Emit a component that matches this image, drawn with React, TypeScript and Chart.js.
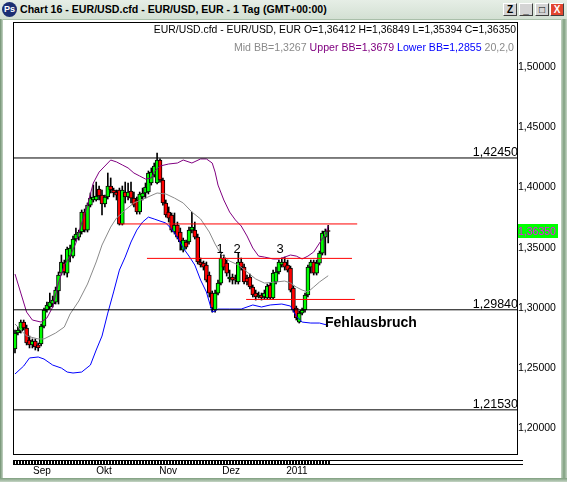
import React, { useEffect, useRef } from "react";
import { Chart, registerables } from "chart.js";
Chart.register(...registerables);

const FONT = '"Liberation Sans", Arial, Helvetica, sans-serif';

// ---- daily candles (index 0 = late Aug 2010) ----
const OPEN = [
  1.2659, 1.2791, 1.2808, 1.2882, 1.2833, 1.2733, 1.2692, 1.2725, 1.2692, 1.27,
  1.2849, 1.2982, 1.3007, 1.3032, 1.3048, 1.314, 1.3289, 1.3372, 1.3289, 1.343,
  1.343, 1.3572, 1.3588, 1.363, 1.3796, 1.3646, 1.3854, 1.3896, 1.3896, 1.3987,
  1.3937, 1.3863, 1.3921, 1.4012, 1.3979, 1.3962, 1.3979, 1.3696, 1.3962, 1.3921,
  1.3971, 1.3912, 1.3896, 1.3796, 1.3921, 1.3954, 1.3962, 1.4037, 1.4104, 1.4037,
  1.4228, 1.4062, 1.3871, 1.3796, 1.3771, 1.363, 1.3688, 1.363, 1.348, 1.3547,
  1.3547, 1.3646, 1.3646, 1.3588, 1.3381, 1.3372, 1.3356, 1.3273, 1.3123, 1.2982,
  1.3123, 1.3206, 1.3414, 1.3372, 1.324, 1.3256, 1.324, 1.3215, 1.3381, 1.3339,
  1.3248, 1.3256, 1.3173, 1.3123, 1.309, 1.3107, 1.309, 1.3082, 1.319, 1.3082,
  1.3215, 1.3298, 1.3356, 1.3381, 1.3356, 1.3331, 1.3165, 1.2999, 1.2882, 1.2957,
  1.2982, 1.3107, 1.3339, 1.3381, 1.3289, 1.3372, 1.3455, 1.3588, 1.36412,
];
const HIGH = [
  1.2816, 1.2841, 1.2899, 1.2899, 1.2857, 1.2766, 1.2742, 1.2742, 1.2708, 1.2866,
  1.2999, 1.3048, 1.3123, 1.3098, 1.3173, 1.3298, 1.3439, 1.3397, 1.3505, 1.3522,
  1.3597, 1.3663, 1.3646, 1.3813, 1.3821, 1.3871, 1.3954, 1.402, 1.4045, 1.4012,
  1.3979, 1.3937, 1.412, 1.4079, 1.3995, 1.3979, 1.3995, 1.4012, 1.4045, 1.4037,
  1.4045, 1.3962, 1.3921, 1.3962, 1.3995, 1.4037, 1.4137, 1.4162, 1.4203, 1.4286,
  1.4237, 1.4079, 1.3896, 1.3838, 1.3788, 1.3788, 1.3713, 1.3663, 1.358, 1.3563,
  1.3671, 1.3796, 1.3713, 1.3613, 1.3414, 1.3389, 1.3381, 1.3298, 1.314, 1.3148,
  1.3231, 1.3464, 1.3439, 1.3397, 1.3314, 1.3281, 1.3273, 1.3455, 1.3414, 1.3364,
  1.3273, 1.3281, 1.319, 1.3148, 1.3132, 1.3123, 1.3148, 1.3198, 1.3206, 1.3314,
  1.3339, 1.3397, 1.3414, 1.3422, 1.3397, 1.3347, 1.3181, 1.3015, 1.2974, 1.2999,
  1.3123, 1.3356, 1.3397, 1.3397, 1.3397, 1.3472, 1.3638, 1.3655, 1.36849,
];
const LOW = [
  1.2625, 1.2775, 1.2791, 1.2816, 1.2692, 1.2667, 1.2667, 1.265, 1.2642, 1.2683,
  1.2833, 1.2965, 1.299, 1.3007, 1.3032, 1.3032, 1.3273, 1.3273, 1.3256, 1.3381,
  1.3414, 1.3555, 1.3563, 1.3613, 1.363, 1.363, 1.3838, 1.3879, 1.3887, 1.3896,
  1.3771, 1.3838, 1.3904, 1.3954, 1.3921, 1.3896, 1.3688, 1.3688, 1.3871, 1.3896,
  1.3871, 1.3838, 1.3779, 1.3779, 1.3896, 1.3912, 1.3946, 1.402, 1.4087, 1.4029,
  1.4045, 1.3854, 1.3754, 1.3713, 1.363, 1.3613, 1.3572, 1.348, 1.3464, 1.3489,
  1.353, 1.3622, 1.3572, 1.3364, 1.3339, 1.3314, 1.3215, 1.309, 1.2965, 1.2965,
  1.3107, 1.319, 1.3314, 1.3264, 1.3215, 1.3198, 1.3198, 1.3198, 1.3314, 1.3198,
  1.319, 1.3157, 1.309, 1.3065, 1.3082, 1.3065, 1.3073, 1.3073, 1.3073, 1.3073,
  1.3198, 1.3281, 1.3339, 1.3314, 1.3298, 1.3132, 1.2965, 1.2899, 1.2874, 1.2941,
  1.2965, 1.309, 1.3289, 1.3273, 1.3273, 1.3356, 1.3439, 1.3439, 1.35394,
];
const CLOSE = [
  1.2791, 1.2816, 1.2882, 1.2833, 1.2708, 1.2692, 1.2725, 1.2675, 1.2667, 1.2849,
  1.2982, 1.3024, 1.3048, 1.3065, 1.3148, 1.3273, 1.3381, 1.3298, 1.3489, 1.3497,
  1.3572, 1.3613, 1.363, 1.3796, 1.3646, 1.3854, 1.3912, 1.3921, 1.3929, 1.3929,
  1.3863, 1.3921, 1.4012, 1.3979, 1.3954, 1.3937, 1.3696, 1.3979, 1.3921, 1.3962,
  1.3912, 1.3854, 1.3796, 1.3946, 1.3954, 1.4004, 1.412, 1.4128, 1.4178, 1.4228,
  1.4062, 1.3871, 1.3771, 1.3746, 1.3646, 1.3688, 1.3588, 1.3547, 1.3563, 1.3505,
  1.3646, 1.3671, 1.3588, 1.3381, 1.3356, 1.3339, 1.3231, 1.3123, 1.2999, 1.3123,
  1.3206, 1.3414, 1.3339, 1.3289, 1.3256, 1.3231, 1.3231, 1.3381, 1.3339, 1.3215,
  1.3215, 1.3173, 1.3107, 1.309, 1.3107, 1.3082, 1.3123, 1.3181, 1.3082, 1.3289,
  1.3298, 1.3381, 1.3381, 1.3339, 1.3314, 1.3148, 1.2982, 1.2916, 1.2957, 1.2982,
  1.3107, 1.3339, 1.3381, 1.3289, 1.3372, 1.3455, 1.3622, 1.3638, 1.3635,
];

// ---- Bollinger bands (20,2) read at sample bars ----
const UPPER_X = [0, 2, 4, 6, 9, 11, 13, 15, 17, 19, 21, 23, 25, 27, 29, 31, 33, 35, 37, 39, 41, 43, 45, 47, 48, 50, 53, 56, 58, 61, 64, 66, 68, 69, 70, 72, 74, 76, 78, 80, 82, 84, 86, 89, 91, 93, 95, 97, 99, 101, 103, 105, 107, 108];
const UPPER_V = [1.3281, 1.3123, 1.2965, 1.2899, 1.2882, 1.2916, 1.3007, 1.3206, 1.3356, 1.343, 1.3538, 1.3705, 1.3854, 1.4037, 1.4128, 1.4178, 1.4228, 1.4212, 1.4187, 1.4162, 1.412, 1.4095, 1.407, 1.4079, 1.4128, 1.4178, 1.4195, 1.4203, 1.4228, 1.4203, 1.4237, 1.4237, 1.4203, 1.4128, 1.402, 1.3896, 1.3796, 1.373, 1.368, 1.3597, 1.3497, 1.343, 1.3422, 1.3406, 1.3406, 1.3422, 1.3439, 1.343, 1.3406, 1.343, 1.3464, 1.3538, 1.3613, 1.3679];
const MID_X = [0, 4, 8, 10, 14, 17, 19, 22, 25, 28, 30, 33, 35, 38, 41, 45, 49, 52, 55, 58, 61, 64, 67, 69, 71, 74, 77, 80, 83, 86, 90, 93, 95, 97, 99, 101, 103, 105, 108];
const MID_V = [1.2866, 1.2766, 1.2742, 1.2742, 1.2791, 1.2841, 1.2949, 1.3057, 1.3198, 1.3381, 1.3522, 1.3671, 1.3746, 1.3813, 1.3871, 1.3912, 1.3954, 1.3946, 1.3912, 1.3871, 1.3796, 1.3738, 1.363, 1.353, 1.3447, 1.3389, 1.3356, 1.3298, 1.324, 1.3206, 1.3215, 1.3223, 1.3206, 1.3173, 1.3148, 1.3132, 1.3173, 1.3215, 1.3267];
const LOWER_X = [0, 3, 5, 8, 10, 13, 16, 18, 20, 23, 26, 28, 30, 32, 34, 36, 38, 40, 42, 44, 46, 48, 50, 52, 54, 56, 58, 60, 62, 64, 66, 68, 69, 70, 74, 78, 80, 82, 85, 88, 92, 95, 97, 99, 102, 105, 108];
const LOWER_V = [1.2451, 1.2517, 1.2584, 1.2592, 1.2575, 1.2525, 1.25, 1.2467, 1.2459, 1.2467, 1.2525, 1.265, 1.2766, 1.2957, 1.3132, 1.3314, 1.3422, 1.3547, 1.3646, 1.3713, 1.3754, 1.3738, 1.3721, 1.3705, 1.3655, 1.3588, 1.3497, 1.343, 1.3356, 1.3231, 1.3132, 1.2965, 1.2974, 1.299, 1.299, 1.299, 1.3007, 1.3024, 1.3007, 1.3024, 1.3032, 1.3015, 1.2932, 1.2882, 1.2874, 1.2874, 1.2855];

// ---- drawn levels ----
const LEVELS = [1.4245, 1.2984, 1.2153];
const LEVEL_LABELS = ["1,42450", "1,29840", "1,21530"];
const RED_LEVELS = [1.3697, 1.3411, 1.307];
const RED_FROM = [36.2, 45.5, 79.7];
const RED_TO = [118, 116.2, 117.2];

const WAVE_LABELS = ["1", "2", "3"];
const WAVE_X = [70.7, 76.6, 91.4];
const WAVE_BASE = 1.3458;
const NOTE_TEXT = "Fehlausbruch";
const NOTE_X = 106.9;
const NOTE_Y = 1.2841;

// ---- axes ----
const X_MIN = -0.69;
const X_MAX = 173.1;
const Y_MIN = 1.17863;
const Y_MAX = 1.53743;
const Y_TICKS = [1.2, 1.25, 1.3, 1.35, 1.4, 1.45, 1.5];
const MONTH_TICKS = [9.3, 30.7, 52.8, 74.5, 97.2];
const MONTH_LABELS = ["Sep", "Okt", "Nov", "Dez", "2011"];
const LAST_CLOSE = 1.3635;
const LAST_LABEL = "1,36350";

const fmt = (v: number) => v.toFixed(5).replace(".", ",");

const overlayPlugin = {
  id: "overlay",
  afterDatasetsDraw(chart: any) {
    const { ctx, chartArea: a, scales } = chart;
    const xs = scales.x;
    const ys = scales.y;
    ctx.save();
    // frame
    ctx.strokeStyle = "#000";
    ctx.lineWidth = 1;
    ctx.strokeRect(Math.round(a.left) + 0.5, Math.round(a.top) + 0.5, Math.round(a.right - a.left), Math.round(a.bottom - a.top));
    // level labels
    ctx.fillStyle = "#000";
    ctx.font = `12.5px ${FONT}`;
    ctx.textAlign = "right";
    ctx.textBaseline = "alphabetic";
    LEVELS.forEach((v, i) => ctx.fillText(LEVEL_LABELS[i], a.right + 1, ys.getPixelForValue(v) - 2));
    // wave labels
    ctx.font = `13px ${FONT}`;
    ctx.textAlign = "center";
    WAVE_LABELS.forEach((t, i) => ctx.fillText(t, xs.getPixelForValue(WAVE_X[i]), ys.getPixelForValue(WAVE_BASE)));
    // note
    ctx.font = `bold 14px ${FONT}`;
    ctx.textAlign = "left";
    ctx.fillText(NOTE_TEXT, xs.getPixelForValue(NOTE_X), ys.getPixelForValue(NOTE_Y));
    // last price box
    const py = ys.getPixelForValue(LAST_CLOSE);
    ctx.fillStyle = "#00ff00";
    ctx.fillRect(a.right + 1, Math.round(py) - 7, 40, 14);
    ctx.fillStyle = "#ff00ff";
    ctx.font = `10.5px ${FONT}`;
    ctx.textBaseline = "middle";
    ctx.fillText(LAST_LABEL, a.right + 1, py + 0.5);
    // bottom scroller
    const b = Math.round(a.bottom);
    const l = Math.round(a.left);
    ctx.strokeStyle = "#000";
    ctx.beginPath();
    ctx.moveTo(l, b + 6.5);
    ctx.lineTo(a.right + 6, b + 6.5);
    ctx.moveTo(l, b + 10.5);
    ctx.lineTo(a.right + 6, b + 10.5);
    ctx.stroke();
    const end = xs.getPixelForValue(OPEN.length - 1);
    ctx.fillStyle = "#000";
    for (let px = l; px < end; px += 3) ctx.fillRect(px, b + 7, 2, 3);
    ctx.restore();
  },
};

export default function App() {
  const ref = useRef<HTMLCanvasElement>(null);
  useEffect(() => {
    if (!ref.current) return;
    const idx = OPEN.map((_, i) => i);
    const line = (xs: number[], vs: number[]) => xs.map((x, i) => ({ x, y: vs[i] }));
    const common = { pointRadius: 0, borderWidth: 1, tension: 0, fill: false };
    const datasets: any[] = [
      ...LEVELS.map((v) => ({ type: "line", data: [{ x: X_MIN, y: v }, { x: X_MAX, y: v }], borderColor: "#000", order: 0, ...common })),
      ...RED_LEVELS.map((v, i) => ({ type: "line", data: [{ x: RED_FROM[i], y: v }, { x: RED_TO[i], y: v }], borderColor: "#ff0000", order: 0, ...common })),
      { type: "line", data: line(UPPER_X, UPPER_V), borderColor: "#800080", order: 1, ...common },
      { type: "line", data: line(MID_X, MID_V), borderColor: "#8a8a8a", order: 1, ...common },
      { type: "line", data: line(LOWER_X, LOWER_V), borderColor: "#0000ff", order: 1, ...common },
      {
        type: "bar",
        data: idx.map((i) => ({ x: i, y: [OPEN[i], CLOSE[i]] })),
        backgroundColor: idx.map((i) => (CLOSE[i] >= OPEN[i] ? "#00ff00" : "#ff0000")),
        borderColor: "#000",
        borderWidth: 1,
        borderSkipped: false,
        barThickness: 4,
        grouped: false,
        order: 2,
      },
      {
        type: "bar",
        data: idx.map((i) => ({ x: i, y: [LOW[i], HIGH[i]] })),
        backgroundColor: "#000",
        borderWidth: 0,
        barThickness: 1,
        grouped: false,
        order: 3,
      },
    ];
    const chart = new Chart(ref.current, {
      type: "bar",
      data: { datasets },
      options: {
        animation: false,
        responsive: false,
        events: [],
        layout: { padding: { left: 13, top: 22, right: 0, bottom: 0 } },
        plugins: { legend: { display: false }, tooltip: { enabled: false } },
        scales: {
          x: {
            type: "linear",
            position: "bottom",
            min: X_MIN,
            max: X_MAX,
            offset: false,
            grid: { display: false, drawTicks: false },
            border: { display: false },
            afterBuildTicks: (s: any) => { s.ticks = MONTH_TICKS.map((v) => ({ value: v })); },
            afterFit: (s: any) => { s.height = 28; },
            ticks: {
              autoSkip: false,
              maxRotation: 0,
              minRotation: 0,
              padding: 11,
              color: "#000",
              font: { family: FONT, size: 10 },
              callback: (_v: any, i: number) => MONTH_LABELS[i],
            },
          },
          y: {
            type: "linear",
            position: "right",
            min: Y_MIN,
            max: Y_MAX,
            grid: { display: false, drawTicks: false },
            border: { display: false },
            afterBuildTicks: (s: any) => { s.ticks = Y_TICKS.map((v) => ({ value: v })); },
            afterFit: (s: any) => { s.width = 50; },
            ticks: {
              padding: 1,
              color: "#000",
              font: { family: FONT, size: 10.5 },
              callback: (v: any) => fmt(Number(v)),
            },
          },
        },
      } as any,
      plugins: [overlayPlugin],
    } as any);
    return () => chart.destroy();
  }, []);

  const btn = (extra: any = {}) => ({
    position: "absolute" as const,
    top: 3,
    width: 14,
    height: 13,
    boxSizing: "border-box" as const,
    border: "1px solid #404040",
    borderTopColor: "#ffffff",
    borderLeftColor: "#ffffff",
    background: "#d4d4d4",
    fontFamily: FONT,
    fontSize: 10,
    fontWeight: 700,
    lineHeight: "11px",
    textAlign: "center" as const,
    color: "#000",
    ...extra,
  });

  return (
    <div style={{ position: "absolute", left: 0, top: 0, width: 567, height: 482, background: "#fff", overflow: "hidden" }}>
      <canvas ref={ref} width={567} height={482} style={{ position: "absolute", left: 0, top: 0, width: 567, height: 482 }} />
      {/* title bar */}
      <div style={{ position: "absolute", left: 0, top: 0, width: 567, height: 19, background: "linear-gradient(#e6eee6, #d3e0d3)", borderBottom: "1px solid #a9bfa9" }}>
        <div style={{ position: "absolute", left: 2, top: 2, width: 15, height: 15, borderRadius: 8, background: "#1c2f73", color: "#fff", fontFamily: FONT, fontSize: 9, fontWeight: 700, lineHeight: "15px", textAlign: "center" }}>Ps</div>
        <div style={{ position: "absolute", left: 20, top: 2, fontFamily: FONT, fontSize: 10.6, fontWeight: 700, lineHeight: "15px", color: "#000", whiteSpace: "nowrap" }}>
          Chart 16 - EUR/USD.cfd - EUR/USD, EUR - 1 Tag (GMT+00:00)
        </div>
        <div style={btn({ left: 503 })}>Z</div>
        <div style={btn({ left: 519 })}>_</div>
        <div style={btn({ left: 535 })}>□</div>
        <div style={btn({ left: 550, background: "#e2452f", color: "#fff" })}>X</div>
      </div>
      {/* window borders */}
      <div style={{ position: "absolute", left: 0, top: 19, width: 3, height: 463, background: "linear-gradient(90deg, #6f8f6f, #c5d5c5)" }} />
      <div style={{ position: "absolute", left: 561, top: 19, width: 6, height: 463, background: "linear-gradient(90deg, #c5d5c5, #7f9f7f, #c5d5c5)" }} />
      <div style={{ position: "absolute", left: 0, top: 478, width: 567, height: 4, background: "linear-gradient(#7f9f7f, #c5d5c5)" }} />
      {/* legend lines */}
      <div style={{ position: "absolute", right: 51, top: 23, fontFamily: FONT, fontSize: 10.4, lineHeight: "13px", color: "#000", whiteSpace: "nowrap" }}>
        EUR/USD.cfd - EUR/USD, EUR O=1,36412 H=1,36849 L=1,35394 C=1,36350
      </div>
      <div style={{ position: "absolute", right: 53, top: 41, fontFamily: FONT, fontSize: 10.6, lineHeight: "13px", whiteSpace: "nowrap" }}>
        <span style={{ color: "#8a8a8a" }}>Mid BB=1,3267 </span>
        <span style={{ color: "#800080" }}>Upper BB=1,3679 </span>
        <span style={{ color: "#0000ff" }}>Lower BB=1,2855 </span>
        <span style={{ color: "#8a8a8a" }}> 20,2,0</span>
      </div>
    </div>
  );
}
